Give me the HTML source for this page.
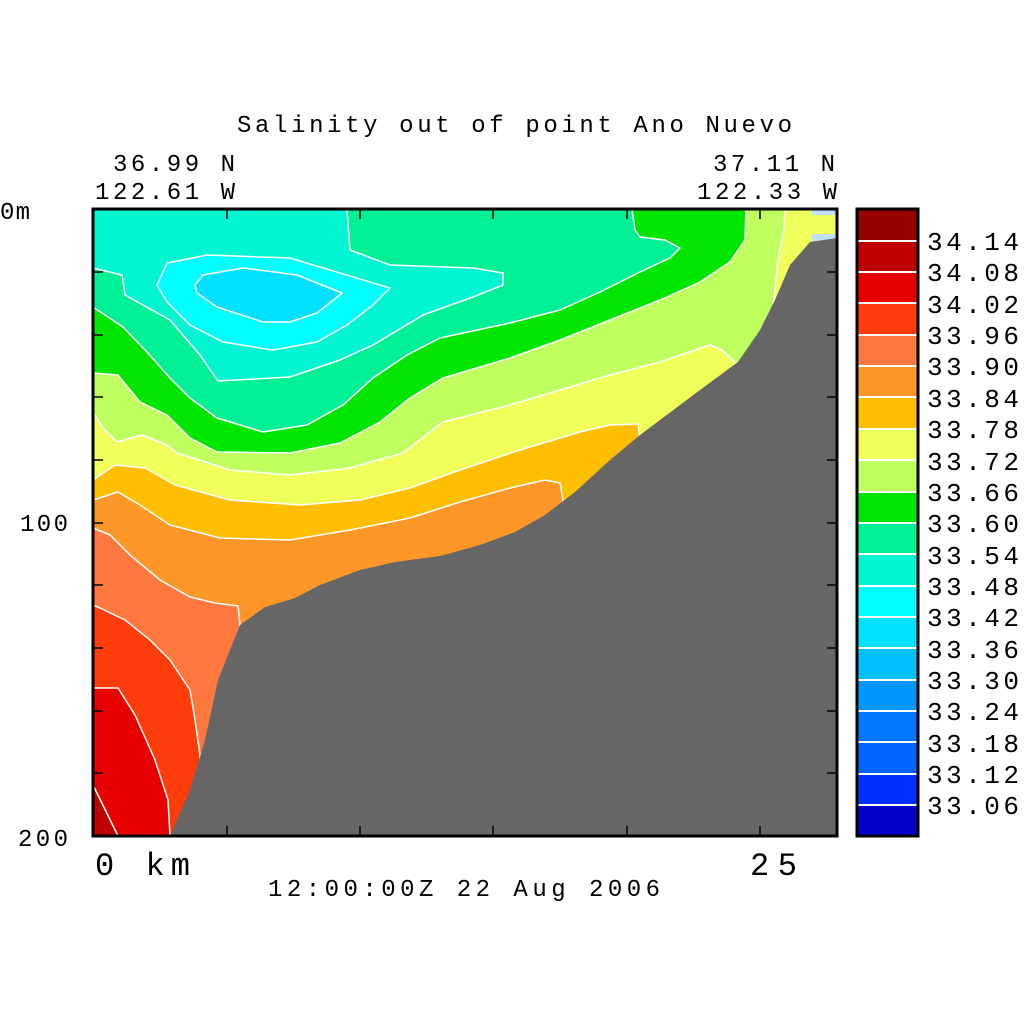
<!DOCTYPE html>
<html><head><meta charset="utf-8"><style>html,body{margin:0;padding:0;background:#fff}svg{display:block}text{font-family:"Liberation Mono",monospace;fill:#000}</style></head><body>
<svg width="1024" height="1024" viewBox="0 0 1024 1024" xmlns="http://www.w3.org/2000/svg">
<rect width="1024" height="1024" fill="#fff"/>
<g stroke="#fff" stroke-width="1.5" stroke-linejoin="round">
<rect x="93" y="209" width="744" height="627" fill="#be0000"/>
<polygon fill="#e60000" points="93,209 837,209 837,836 118,836 93,785"/>
<polygon fill="#ff3c0a" points="93,209 837,209 837,836 170,836 168,800 155,760 135,715 118,688 93,688"/>
<polygon fill="#ff7840" points="93,209 837,209 837,836 200,836 200,755 195,720 190,690 170,660 150,640 125,620 100,608 93,605"/>
<polygon fill="#ff9628" points="93,209 837,209 837,836 240,836 240,625 238,606 215,603 190,597 160,580 130,555 110,535 93,528"/>
<polygon fill="#ffbe00" points="93,209 837,209 837,836 563,836 563,500 560,483 545,480 510,488 460,502 410,518 350,530 290,540 220,538 170,525 140,505 118,492 93,500"/>
<polygon fill="#f0ff5a" points="93,209 837,209 837,836 640,836 640,440 638,424 610,425 580,432 520,450 460,470 410,488 360,500 300,505 230,500 175,485 145,468 115,465 93,480"/>
<polygon fill="#c0ff60" points="93,209 837,209 837,836 740,836 738,365 722,350 710,345 660,362 610,375 560,390 510,405 443,422 403,453 350,468 290,475 230,470 177,453 167,445 142,435 117,442 103,428 93,412"/>
<polygon fill="#00e600" points="93,209 746,209 745,240 730,262 700,282 660,300 610,320 560,340 510,358 443,378 410,398 380,422 340,443 290,453 217,452 190,438 167,415 140,402 118,375 93,373"/>
<polygon fill="#00f096" points="93,209 632,209 635,230 640,237 665,240 680,248 670,258 640,272 600,292 560,310 510,323 440,338 407,355 373,378 343,405 307,425 263,432 217,418 190,398 170,378 147,352 123,327 93,307"/>
<polygon fill="#00f5d0" points="93,209 347,209 347,210 350,250 390,265 473,268 503,273 503,285 473,297 423,315 373,345 340,360 290,377 218,381 200,355 170,320 125,295 122,275 93,268"/>
<polygon fill="#00ffff" points="157,285 167,263 207,255 290,258 390,288 373,305 347,325 317,342 273,350 223,342 190,325 167,302"/>
<polygon fill="#00e0ff" points="195,285 203,275 243,268 297,275 342,293 317,313 290,322 263,322 217,307 197,293"/>
<polygon fill="#f0ff5a" points="785,209 837,209 837,300 772,320 778,260 784,230"/>
</g>
<rect x="812" y="209" width="25" height="6" fill="#bfe0ff"/>
<rect x="812" y="234" width="25" height="10" fill="#bfe0ff"/>
<polygon fill="#666" points="170,836 190,790 205,740 218,680 240,625 265,607 295,598 320,585 360,570 395,562 440,556 480,545 515,532 545,515 575,492 610,460 640,435 700,390 738,362 760,330 775,300 790,265 810,242 837,238 837,836"/>
<g stroke="#000" stroke-width="1.5">
<path d="M93 272h10M93 335h10M93 397h10M93 460h10M93 523h10M93 585h10M93 648h10M93 711h10M93 773h10"/>
<path d="M837 272h-10M837 335h-10M837 397h-10M837 460h-10M837 523h-10M837 585h-10M837 648h-10M837 711h-10M837 773h-10"/>
<path d="M227 836v-10M360 836v-10M493 836v-10M627 836v-10M760 836v-10"/>
<path d="M227 209v10M360 209v10M493 209v10M627 209v10M760 209v10"/>
</g>
<rect x="93" y="209" width="744" height="627" fill="none" stroke="#000" stroke-width="3"/>
<g>
<rect x="857" y="209" width="61" height="32" fill="#960000"/>
<rect x="857" y="241" width="61" height="31" fill="#be0000"/>
<rect x="857" y="272" width="61" height="31" fill="#e60000"/>
<rect x="857" y="303" width="61" height="32" fill="#ff3c0a"/>
<rect x="857" y="335" width="61" height="31" fill="#ff7840"/>
<rect x="857" y="366" width="61" height="31" fill="#ff9628"/>
<rect x="857" y="397" width="61" height="32" fill="#ffbe00"/>
<rect x="857" y="429" width="61" height="31" fill="#f0ff5a"/>
<rect x="857" y="460" width="61" height="32" fill="#c0ff60"/>
<rect x="857" y="492" width="61" height="31" fill="#00e600"/>
<rect x="857" y="523" width="61" height="31" fill="#00f096"/>
<rect x="857" y="554" width="61" height="32" fill="#00f5d0"/>
<rect x="857" y="586" width="61" height="31" fill="#00ffff"/>
<rect x="857" y="617" width="61" height="31" fill="#00e0ff"/>
<rect x="857" y="648" width="61" height="32" fill="#00c0ff"/>
<rect x="857" y="680" width="61" height="31" fill="#0096ff"/>
<rect x="857" y="711" width="61" height="31" fill="#0078ff"/>
<rect x="857" y="742" width="61" height="32" fill="#0064ff"/>
<rect x="857" y="774" width="61" height="31" fill="#0032ff"/>
<rect x="857" y="805" width="61" height="31" fill="#0000c8"/>
<g stroke="#fff" stroke-width="2"><path d="M857 241h61M857 272h61M857 303h61M857 335h61M857 366h61M857 397h61M857 429h61M857 460h61M857 492h61M857 523h61M857 554h61M857 586h61M857 617h61M857 648h61M857 680h61M857 711h61M857 742h61M857 774h61M857 805h61"/></g>
<rect x="857" y="209" width="61" height="627" fill="none" stroke="#000" stroke-width="3"/>
</g>
<g font-size="26">
<text x="927" y="250" textLength="92">34.14</text>
<text x="927" y="281" textLength="92">34.08</text>
<text x="927" y="313" textLength="92">34.02</text>
<text x="927" y="344" textLength="92">33.96</text>
<text x="927" y="375" textLength="92">33.90</text>
<text x="927" y="407" textLength="92">33.84</text>
<text x="927" y="438" textLength="92">33.78</text>
<text x="927" y="470" textLength="92">33.72</text>
<text x="927" y="501" textLength="92">33.66</text>
<text x="927" y="532" textLength="92">33.60</text>
<text x="927" y="564" textLength="92">33.54</text>
<text x="927" y="595" textLength="92">33.48</text>
<text x="927" y="626" textLength="92">33.42</text>
<text x="927" y="658" textLength="92">33.36</text>
<text x="927" y="689" textLength="92">33.30</text>
<text x="927" y="720" textLength="92">33.24</text>
<text x="927" y="752" textLength="92">33.18</text>
<text x="927" y="783" textLength="92">33.12</text>
<text x="927" y="814" textLength="92">33.06</text>
</g>
<g font-size="24">
<text x="237" y="132" textLength="555">Salinity out of point Ano Nuevo</text>
<text x="113" y="171" textLength="122">36.99 N</text>
<text x="95" y="199" textLength="140">122.61 W</text>
<text x="713" y="171" textLength="122">37.11 N</text>
<text x="697" y="199" textLength="140">122.33 W</text>
<text x="0" y="219" textLength="30">0m</text>
<text x="20" y="531" textLength="48">100</text>
<text x="18" y="846" textLength="50">200</text>
<text x="268" y="896" textLength="392">12:00:00Z  22 Aug 2006</text>
</g>
<g font-size="32">
<text x="95" y="875" textLength="95">0 km</text>
<text x="750" y="875" textLength="47">25</text>
</g>
</svg>
</body></html>
